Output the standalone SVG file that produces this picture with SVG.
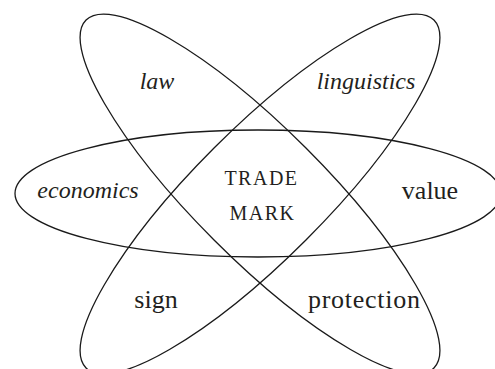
<svg xmlns="http://www.w3.org/2000/svg" width="495" height="369" viewBox="0 0 495 369">
<style>
.ring{fill:none;stroke:#1a1a1a;stroke-width:1.3}
.t{font-family:"Liberation Serif","Times New Roman",serif;fill:#231f20;text-anchor:middle}
.it{font-style:italic;font-size:24px}
.rm{font-size:26px}
.sc{font-size:20px;letter-spacing:1.5px}
</style>
<rect width="495" height="369" fill="#ffffff"/>
<g id="connectors">
<ellipse id="ring-horizontal" class="ring" cx="258" cy="193.5" rx="243" ry="63.5"/>
<ellipse id="ring-law" class="ring" cx="260" cy="194" rx="246" ry="65" transform="rotate(45 260 194)"/>
<ellipse id="ring-linguistics" class="ring" cx="260" cy="194" rx="246" ry="65" transform="rotate(-45 260 194)"/>
</g>
<g id="law"><text class="t it" x="157" y="89">law</text></g>
<g id="linguistics"><text class="t it" x="366" y="89">linguistics</text></g>
<g id="economics"><text class="t it" x="88" y="198">economics</text></g>
<g id="value"><text class="t rm" x="430" y="199">value</text></g>
<g id="trademark"><text class="t sc" x="261.5" y="185">TRADE</text><text class="t sc" x="262.5" y="220">MARK</text></g>
<g id="sign"><text class="t rm" x="156" y="308">sign</text></g>
<g id="protection"><text class="t rm" x="364" y="308" textLength="112">protection</text></g>
</svg>
